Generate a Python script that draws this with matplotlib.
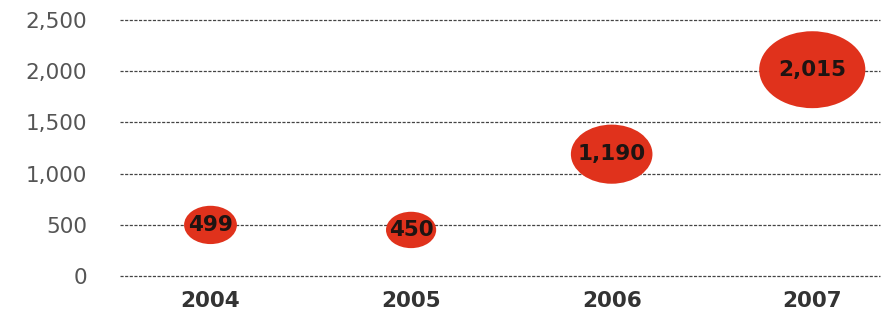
import numpy as np
import matplotlib
matplotlib.use("Agg")
import matplotlib.pyplot as plt
from matplotlib.path import Path

# data
years = ["2004", "2005", "2006", "2007"]
values = [499, 450, 1190, 2015]
labels = ["499", "450", "1,190", "2,015"]
yticks = [0, 500, 1000, 1500, 2000, 2500]
yticklabels = ["0", "500", "1,000", "1,500", "2,000", "2,500"]

#elliptical marker, wider than tall
circ = Path.unit_circle()
ell = Path(circ.vertices * np.array([1.38, 1.0]), circ.codes)

fig = plt.figure(figsize=(8.84, 3.18), dpi=100)
ax = fig.add_axes([0.136, 0.132, 0.86, 0.805])

x = np.arange(len(years))
ax.scatter(x, values, s=np.array(values) * 2.9, marker=ell,
           color="#e0321c", edgecolors="none", zorder=3, clip_on=False)

for xi, v, lab in zip(x, values, labels):
    ax.text(xi, v, lab, ha="center", va="center", fontsize=15.5,
            fontweight="bold", color="#1e1412", zorder=4)

ax.set_xlim(-0.45, 3.34)
ax.set_ylim(0, 2500)
ax.set_yticks(yticks)
ax.set_yticklabels(yticklabels)
ax.set_xticks(x)
ax.set_xticklabels(years)

for val in yticks:
    ax.axhline(val, color="#444444", linewidth=0.9, linestyle=(0, (2.5, 1.2)),
               zorder=1, clip_on=False)

for s in ax.spines.values():
    s.set_visible(False)
ax.tick_params(axis="both", length=0)
ax.tick_params(axis="y", pad=24, labelsize=15.5, labelcolor="#555555")
ax.tick_params(axis="x", pad=11, labelsize=15.5, labelcolor="#333333")
for t in ax.get_xticklabels():
    t.set_fontweight("bold")

fig.savefig("out.png", dpi=100)
